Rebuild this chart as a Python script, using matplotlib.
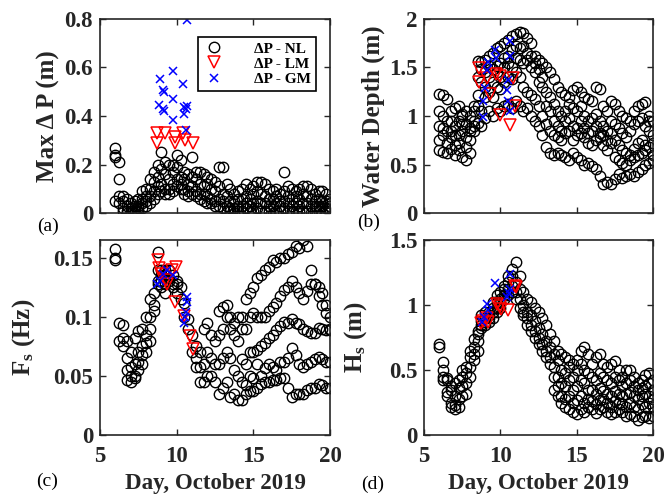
import numpy as np
import matplotlib
matplotlib.use('Agg')
import matplotlib.pyplot as plt
from matplotlib.ticker import FuncFormatter

nan = np.nan

# time axis shared by all panels (day of October 2019)
day = [6.0, 6.25, 6.5, 6.75, 7.0, 7.25, 7.5, 7.75,
       8.0, 8.25, 8.5, 8.75, 9.0, 9.25, 9.5, 9.75,
       10.0, 10.25, 10.5, 10.75, 11.0, 11.25, 11.5, 11.75,
       12.0, 12.25, 12.5, 12.75, 13.0, 13.25, 13.5, 13.75,
       14.0, 14.25, 14.5, 14.75, 15.0, 15.25, 15.5, 15.75,
       16.0, 16.25, 16.5, 16.75, 17.0, 17.25, 17.5, 17.75,
       18.0, 18.25, 18.5, 18.75, 19.0, 19.25, 19.5, 19.75,
       20.0]

# (a) max delta P, NL model (several stations)
dp_nl_1 = [0.27, 0.14, 0.07, 0.06, 0.04, 0.05, 0.06, 0.09,
           0.10, 0.14, 0.17, 0.20, 0.25, 0.21, 0.20, 0.20,
           0.24, 0.22, 0.17, 0.16, 0.23, 0.17, 0.17, 0.16,
           0.15, 0.14, 0.13, 0.19, 0.19, 0.12, 0.10, 0.08,
           0.09, 0.10, 0.12, 0.10, 0.11, 0.13, 0.13, 0.12,
           0.10, 0.09, 0.10, 0.08, 0.17, 0.11, 0.10, 0.09,
           0.10, 0.11, 0.11, 0.10, 0.08, 0.09, 0.09, 0.08,
           0.06]
dp_nl_2 = [0.24, 0.21, 0.05, 0.03, 0.02, 0.03, 0.03, 0.06,
           0.07, 0.10, 0.13, 0.15, 0.18, 0.16, 0.14, 0.17,
           0.19, 0.15, 0.14, 0.12, 0.15, 0.14, 0.12, 0.11,
           0.12, 0.10, 0.09, 0.11, 0.08, 0.07, 0.05, 0.05,
           0.06, 0.06, 0.07, 0.06, 0.08, 0.09, 0.08, 0.07,
           0.06, 0.06, 0.07, 0.05, 0.09, 0.07, 0.06, 0.07,
           0.06, 0.08, 0.07, 0.06, 0.05, 0.06, 0.05, 0.05,
           0.04]
dp_nl_3 = [0.23, 0.07, 0.02, 0.01, 0.01, 0.01, 0.02, 0.04,
           0.05, 0.07, 0.09, 0.11, 0.12, 0.08, 0.10, 0.12,
           0.14, 0.12, 0.10, 0.09, 0.11, 0.09, 0.08, 0.08,
           0.07, 0.06, 0.05, 0.06, 0.05, 0.03, 0.02, 0.02,
           0.03, 0.03, 0.04, 0.03, 0.04, 0.05, 0.04, 0.04,
           0.03, 0.03, 0.04, 0.03, 0.05, 0.04, 0.03, 0.04,
           0.03, 0.04, 0.04, 0.03, 0.03, 0.03, 0.03, 0.02,
           0.03]
dp_nl_4 = [0.05, 0.04, 0.01, 0.00, 0.00, 0.00, 0.01, 0.02,
           0.03, 0.04, 0.06, 0.08, 0.09, 0.10, 0.08, 0.09,
           0.11, 0.10, 0.08, 0.07, 0.08, 0.07, 0.06, 0.05,
           0.04, 0.04, 0.03, 0.03, 0.02, 0.01, 0.01, 0.00,
           0.01, 0.01, 0.02, 0.01, 0.01, 0.02, 0.01, 0.01,
           0.01, 0.00, 0.01, 0.01, 0.02, 0.01, 0.01, 0.01,
           0.01, 0.01, 0.01, 0.00, 0.01, 0.01, 0.00, 0.01,
           0.01]
dp_lm_day = [8.70, 8.70, 9.24, 9.89, 9.89, 10.43, 10.54, 11.09]
dp_lm = [0.329, 0.287, 0.329, 0.315, 0.287, 0.329, 0.300, 0.287]
dp_gm_day = [8.91, 9.13, 9.15, 8.87, 9.13, 9.2, 9.78, 9.74, 9.74, 10.4,
             10.65, 10.48, 10.5, 10.6, 10.7, 10.6]
dp_gm = [0.551, 0.507, 0.50, 0.445, 0.43, 0.42, 0.587, 0.47, 0.384, 0.532,
         0.796, 0.438, 0.41, 0.43, 0.44, 0.342]

# (b) water depth
wd_nl_1 = [1.23, 1.22, 1.18, 1.05, 1.08, 1.10, 1.02, 1.05,
           1.00, 1.10, 1.57, 1.56, 1.58, 1.62, 1.65, 1.70,
           1.72, 1.75, 1.78, 1.82, 1.85, 1.87, 1.86, 1.80,
           1.75, 1.62, 1.58, 1.55, 1.50, 1.45, 1.38, 1.30,
           1.25, 1.22, 1.20, 1.27, 1.30, 1.25, 1.20, 1.18,
           1.15, 1.30, 1.28, 1.10, 1.05, 1.15, 1.12, 1.05,
           1.00, 0.98, 0.95, 1.05, 1.10, 1.12, 1.14, 1.00,
           0.95]
wd_nl_2 = [0.90, 0.88, 0.95, 0.85, 0.90, 0.95, 1.00, 0.92,
           0.88, 1.05, 1.22, 1.35, 1.45, 1.40, 1.48, 1.52,
           1.55, 1.60, 1.62, 1.68, 1.72, 1.58, 1.55, 1.58,
           1.50, 1.45, 1.35, 1.30, 1.25, 1.20, 1.12, 1.05,
           1.00, 1.05, 1.12, 1.08, 1.05, 1.10, 1.00, 0.95,
           0.98, 1.02, 0.95, 0.90, 0.85, 0.95, 0.92, 0.88,
           0.82, 0.78, 0.85, 0.92, 0.95, 0.98, 0.90, 0.85,
           0.80]
wd_nl_3 = [0.75, 0.80, 0.72, 0.78, 0.70, 0.80, 0.85, 0.78,
           0.75, 0.90, 1.10, 1.05, 1.20, 1.25, 1.20, 1.30,
           1.28, 1.35, 1.40, 1.38, 1.45, 1.40, 1.30, 1.25,
           1.22, 1.18, 1.10, 1.00, 0.92, 0.85, 0.80, 0.78,
           0.75, 0.82, 0.85, 0.90, 0.88, 0.82, 0.78, 0.72,
           0.70, 0.75, 0.78, 0.70, 0.65, 0.72, 0.75, 0.70,
           0.65, 0.62, 0.60, 0.66, 0.72, 0.75, 0.70, 0.68,
           0.72]
wd_nl_4 = [0.65, 0.63, 0.62, 0.66, 0.60, 0.65, 0.58, 0.55,
           0.62, 0.85, 0.93, 0.90, 0.98, 1.05, 1.00, 1.08,
           1.05, 1.10, 1.12, 1.08, 1.15, 1.10, 1.05, 1.08,
           1.00, 0.95, 0.90, 0.80, 0.68, 0.62, 0.60, 0.62,
           0.60, 0.58, 0.55, 0.62, 0.58, 0.55, 0.50, 0.52,
           0.48, 0.45, 0.38, 0.30, 0.32, 0.30, 0.35, 0.40,
           0.36, 0.38, 0.40, 0.38, 0.42, 0.45, 0.50, 0.52,
           0.55]
wd_nl_5 = [1.05, 1.00, 0.85, 0.95, 0.80, 0.72, 0.92, 0.68,
           0.85, 0.95, 1.40, 1.48, 1.30, 1.52, 1.35, 1.45,
           1.40, 1.50, 1.55, 1.50, 1.60, 1.70, 1.72, 1.65,
           1.62, 1.55, 1.48, 1.40, 1.10, 1.05, 0.95, 0.90,
           0.85, 0.95, 0.98, 0.75, 0.80, 0.95, 0.88, 0.82,
           0.85, 0.90, 0.82, 0.80, 0.75, 0.82, 0.58, 0.55,
           0.52, 0.50, 0.55, 0.58, 0.60, 0.62, 0.65, 0.95,
           0.60]
wd_lm_day = [8.56, 8.56, 9.1, 9.32, 9.7, 9.98, 9.98, 10.85, 10.96, 10.63]
wd_lm = [1.49, 1.35, 1.39, 1.23, 1.43, 1.41, 1.01, 1.39, 1.10, 0.91]
wd_gm_day = [9.21, 9.65, 9.7, 10.63, 10.63, 9.1, 9.0, 8.88, 8.88, 10.41,
             10.52, 10.6, 10.5]
wd_gm = [1.56, 1.68, 1.60, 1.77, 1.62, 1.47, 1.29, 1.15, 0.99, 1.27,
         1.15, 1.05, 1.37]

# (c) Fs
fs_nl_1 = [0.157, 0.095, 0.093, 0.080, 0.070, 0.082, 0.088, 0.090,
           0.100, 0.115, 0.120, 0.155, 0.140, 0.140, 0.140, 0.135,
           0.130, 0.125, 0.112, 0.098, 0.085, 0.075, 0.070, 0.090,
           0.095, 0.085, 0.080, 0.105, 0.108, 0.110, 0.100, 0.095,
           0.100, 0.100, 0.115, 0.120, 0.125, 0.133, 0.135, 0.140,
           0.142, 0.148, 0.146, 0.150, 0.150, 0.153, 0.155, 0.160,
           0.158, 0.165, 0.160, 0.140, 0.128, 0.125, 0.120, 0.110,
           0.100]
fs_nl_2 = [0.150, 0.080, 0.075, 0.055, 0.050, 0.060, 0.070, 0.075,
           0.085, 0.100, 0.105, 0.140, 0.130, 0.135, 0.130, 0.128,
           0.120, 0.115, 0.100, 0.090, 0.070, 0.065, 0.058, 0.060,
           0.070, 0.065, 0.060, 0.085, 0.090, 0.100, 0.090, 0.085,
           0.080, 0.090, 0.090, 0.100, 0.103, 0.100, 0.100, 0.100,
           0.105, 0.108, 0.112, 0.118, 0.123, 0.125, 0.130, 0.125,
           0.120, 0.115, 0.122, 0.128, 0.128, 0.118, 0.110, 0.103,
           0.090]
fs_nl_3 = [0.148, nan, nan, 0.047, 0.045, 0.050, 0.055, 0.060,
           0.070, 0.080, nan, 0.130, 0.125, 0.120, nan, nan,
           nan, nan, nan, nan, nan, 0.058, 0.045, 0.045,
           0.050, 0.050, 0.045, 0.060, 0.065, 0.070, 0.065, 0.055,
           0.050, 0.064, 0.060, 0.070, 0.070, 0.072, 0.075, 0.078,
           0.082, 0.085, 0.089, 0.092, 0.096, 0.095, 0.098, 0.095,
           0.094, 0.090, 0.088, 0.086, 0.086, 0.091, 0.090, 0.089,
           0.089]
fs_nl_4 = [nan, nan, 0.082, 0.065, 0.058, 0.048, 0.062, 0.068,
           0.078, 0.090, 0.110, 0.128, 0.135, 0.128, 0.133, 0.125,
           0.128, nan, nan, nan, nan, nan, nan, nan,
           nan, nan, nan, 0.035, 0.040, 0.045, 0.032, 0.035,
           0.030, 0.030, 0.035, 0.037, 0.037, 0.060, 0.050, 0.057,
           0.060, 0.058, 0.055, 0.062, 0.062, 0.065, 0.074, 0.068,
           0.060, 0.058, 0.060, 0.062, 0.064, 0.066, 0.064, 0.062,
           0.062]
fs_nl_5 = [nan, nan, nan, nan, nan, nan, nan, nan,
           nan, nan, nan, nan, nan, nan, nan, nan,
           nan, nan, nan, nan, nan, nan, nan, nan,
           nan, nan, nan, nan, nan, nan, nan, nan,
           nan, 0.045, 0.042, 0.050, 0.048, 0.040, 0.043, 0.045,
           0.045, 0.047, 0.047, 0.048, 0.048, 0.040, 0.032, 0.035,
           0.035, 0.035, 0.038, 0.040, 0.040, 0.043, 0.042, 0.040,
           0.040]
fs_lm_day = [8.75, 8.85, 9.0, 9.3, 9.35, 9.7, 9.95, 9.9, 10.45, 10.85, 11.05]
fs_lm = [0.148, 0.141, 0.136, 0.131, 0.128, 0.140, 0.142, 0.113, 0.101, 0.084, 0.073]
fs_gm_day = [8.7, 8.9, 9.1, 9.35, 9.75, 10.5, 10.55, 10.6, 10.65, 10.65]
fs_gm = [0.128, 0.130, 0.136, 0.140, 0.135, 0.095, 0.100, 0.104, 0.113, 0.117]

# (d) Hs
hs_nl_1 = [0.70, 0.56, 0.44, 0.38, 0.40, 0.42, 0.50, 0.52,
           0.65, 0.74, 0.80, 0.92, 0.95, 0.95, 1.02, 1.08,
           1.10, 1.15, 1.22, 1.28, 1.33, 1.22, 1.10, 1.05,
           1.02, 0.98, 0.95, 0.90, 0.85, 0.78, 0.72, 0.65,
           0.62, 0.60, 0.58, 0.55, 0.58, 0.65, 0.68, 0.62,
           0.55, 0.60, 0.62, 0.55, 0.52, 0.55, 0.57, 0.50,
           0.45, 0.50, 0.50, 0.45, 0.40, 0.42, 0.46, 0.48,
           0.42]
hs_nl_2 = [0.68, 0.50, 0.42, 0.35, 0.30, 0.36, 0.45, 0.48,
           0.60, 0.68, 0.78, 0.88, 0.90, 0.92, 0.98, 1.02,
           1.05, 1.12, 1.18, 1.22, 1.18, 1.12, 1.00, 0.95,
           0.92, 0.88, 0.82, 0.78, 0.72, 0.68, 0.62, 0.58,
           0.50, 0.48, 0.52, 0.45, 0.50, 0.55, 0.50, 0.48,
           0.45, 0.42, 0.48, 0.45, 0.42, 0.40, 0.45, 0.42,
           0.38, 0.40, 0.42, 0.38, 0.35, 0.36, 0.38, 0.40,
           0.35]
hs_nl_3 = [nan, 0.45, 0.33, 0.25, 0.23, 0.28, 0.38, 0.40,
           0.52, 0.62, 0.72, 0.85, 0.87, 0.90, 0.95, 0.98,
           1.02, 1.08, 1.12, 1.15, 1.10, 1.05, 0.95, 0.90,
           0.85, 0.80, 0.75, 0.70, 0.65, 0.60, 0.52, 0.45,
           0.40, 0.38, 0.42, 0.35, 0.38, 0.42, 0.40, 0.35,
           0.35, 0.32, 0.36, 0.34, 0.32, 0.30, 0.34, 0.32,
           0.30, 0.32, 0.33, 0.30, 0.28, 0.30, 0.32, 0.30,
           0.28]
hs_nl_4 = [nan, 0.42, 0.30, 0.22, 0.20, 0.22, 0.30, 0.32,
           0.45, 0.58, 0.65, 0.82, 0.85, 0.87, 0.90, 0.95,
           0.98, 1.05, 1.08, 1.10, 1.05, 0.98, 0.92, 0.85,
           0.80, 0.75, 0.70, 0.65, 0.60, 0.55, 0.45, 0.38,
           0.30, 0.22, 0.20, 0.18, 0.16, 0.20, 0.18, 0.22,
           0.20, 0.17, 0.20, 0.22, 0.18, 0.16, 0.18, 0.20,
           0.18, 0.15, 0.16, 0.15, 0.12, 0.14, 0.15, 0.13,
           0.15]
hs_nl_5 = [nan, nan, nan, nan, nan, nan, nan, nan,
           nan, nan, nan, nan, nan, nan, nan, nan,
           nan, nan, nan, nan, nan, nan, nan, nan,
           nan, nan, nan, nan, nan, nan, 0.35, 0.30,
           0.25, 0.28, 0.30, 0.25, 0.27, 0.30, 0.25, 0.28,
           0.26, 0.24, 0.27, 0.28, 0.25, 0.22, 0.26, 0.25,
           0.24, 0.22, 0.25, 0.22, 0.20, 0.24, 0.22, 0.25,
           0.22]
hs_lm_day = [8.75, 8.85, 9.1, 9.2, 9.75, 9.95, 10.05, 10.5, 10.95, 11.05]
hs_lm = [0.86, 0.88, 0.90, 0.87, 1.01, 0.99, 0.97, 0.96, 1.15, 1.14]
hs_gm_day = [8.8, 8.95, 9.1, 9.15, 9.65, 10.45, 10.55, 10.65, 10.65]
hs_gm = [0.87, 0.91, 1.01, 0.96, 1.17, 1.06, 1.09, 1.12, 1.24]

plt.rcParams['font.family'] = 'Liberation Serif'
plt.rcParams['mathtext.fontset'] = 'custom'
plt.rcParams['mathtext.rm'] = 'Liberation Serif:bold'
plt.rcParams['mathtext.it'] = 'Liberation Serif:bold'
plt.rcParams['mathtext.bf'] = 'Liberation Serif:bold'

fig = plt.figure(figsize=(6.67, 4.99), dpi=100)
ax_a = fig.add_axes([0.150, 0.573, 0.345, 0.389])
ax_b = fig.add_axes([0.636, 0.573, 0.343, 0.389])
ax_c = fig.add_axes([0.150, 0.128, 0.345, 0.391])
ax_d = fig.add_axes([0.636, 0.128, 0.343, 0.391])

fmt = FuncFormatter(lambda v, p: '%g' % v)
gray = '#262626'


def draw(ax, nl_rows, lm_day, lm, gm_day, gm):
    # NL circles first, then LM triangles, then GM crosses on top
    for k, row in enumerate(nl_rows):
        ax.plot(day, row, 'o', mfc='none', mec='k', ms=7.5, mew=1.0,
                label='ΔP - NL' if k == 0 else None)
    ax.plot(lm_day, lm, 'v', mfc='none', mec='#ff0000', ms=8, mew=1.1,
            label='ΔP - LM')
    ax.plot(gm_day, gm, 'x', color='#0000ff', ms=5.5, mew=1.1,
            label='ΔP - GM')


def style(ax, ymax, yticks, ylabel, xlab, lpad):
    ax.set_xlim(5, 20)
    ax.set_ylim(0, ymax)
    ax.set_xticks([5, 10, 15, 20])
    ax.set_yticks(yticks)
    ax.xaxis.set_major_formatter(fmt)
    ax.yaxis.set_major_formatter(fmt)
    ax.tick_params(direction='in', length=4, width=1, top=True, right=True,
                   labelsize=16.5, colors=gray, pad=5)
    ax.tick_params(axis='x', pad=8)
    for lab in ax.get_xticklabels() + ax.get_yticklabels():
        lab.set_fontweight('bold')
    for s in ax.spines.values():
        s.set_linewidth(1.2)
        s.set_color(gray)
    ax.set_ylabel(ylabel, fontsize=18, fontweight='bold', color=gray, labelpad=lpad)
    if xlab:
        ax.set_xlabel('Day, October 2019', fontsize=16.5, fontweight='bold',
                      color=gray, labelpad=4)
    else:
        ax.set_xticklabels([])


draw(ax_a, [dp_nl_1, dp_nl_2, dp_nl_3, dp_nl_4], dp_lm_day, dp_lm, dp_gm_day, dp_gm)
draw(ax_b, [wd_nl_1, wd_nl_2, wd_nl_3, wd_nl_4, wd_nl_5], wd_lm_day, wd_lm, wd_gm_day, wd_gm)
draw(ax_c, [fs_nl_1, fs_nl_2, fs_nl_3, fs_nl_4, fs_nl_5], fs_lm_day, fs_lm, fs_gm_day, fs_gm)
draw(ax_d, [hs_nl_1, hs_nl_2, hs_nl_3, hs_nl_4, hs_nl_5], hs_lm_day, hs_lm, hs_gm_day, hs_gm)

style(ax_a, 0.8, [0, 0.2, 0.4, 0.6, 0.8], 'Max Δ P (m)', False, 3)
style(ax_b, 2, [0, 0.5, 1, 1.5, 2], 'Water Depth (m)', False, 3)
style(ax_c, 0.165, [0, 0.05, 0.1, 0.15], r'F$_\mathregular{s}$ (Hz)', True, 12)
style(ax_d, 1.5, [0, 0.5, 1, 1.5], r'H$_\mathregular{s}$ (m)', True, 14)

leg = ax_a.legend(loc='upper right', bbox_to_anchor=(0.97, 0.945),
                  prop={'weight': 'bold', 'size': 11}, fancybox=False,
                  edgecolor='k', framealpha=1, borderpad=0.3,
                  handlelength=1.6, labelspacing=0.1, handletextpad=1.8)
leg.get_frame().set_linewidth(1.2)

# panel letters
fig.text(0.072, 0.547, '(a)', fontsize=14, ha='center', va='center')
fig.text(0.553, 0.555, '(b)', fontsize=14, ha='center', va='center')
fig.text(0.070, 0.035, '(c)', fontsize=14, ha='center', va='center')
fig.text(0.558, 0.030, '(d)', fontsize=14, ha='center', va='center')

fig.savefig('out.png', dpi=100)
